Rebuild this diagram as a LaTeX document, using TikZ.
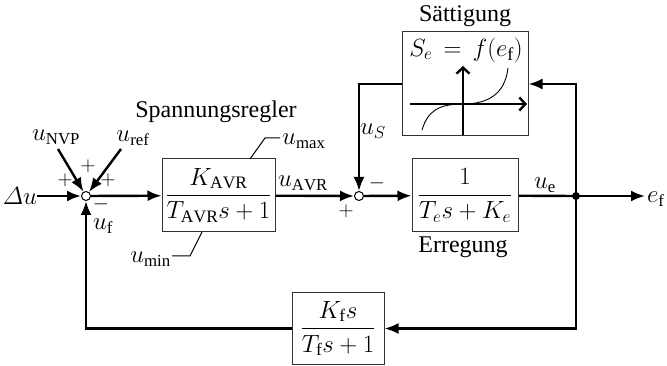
\documentclass[tikz,border=0pt]{standalone}
\usepackage{amsmath}
\usepackage{fontspec}
\setmainfont{Liberation Serif}
\usetikzlibrary{arrows.meta}
\begin{document}
\begin{tikzpicture}[x=1pt,y=-1pt,
  font=\fontsize{24}{28}\selectfont,
  sig/.style={line width=2.4pt},
  arr/.style={sig,-{Latex[length=14pt,width=11pt]}},
  blk/.style={draw=black!80,line width=1pt,fill=white,inner sep=0pt,
    font=\fontsize{25}{30}\selectfont},
  sumj/.style={circle,draw,line width=1pt,fill=white,minimum size=9pt,inner sep=0pt},
  sgn/.style={font=\fontsize{21}{22}\selectfont,inner sep=0pt},
  lbl/.style={inner sep=0pt},
  leader/.style={line width=1pt}
]
\useasboundingbox (0,0) rectangle (667,366);

% blocks
\node[blk,minimum width=113pt,minimum height=73pt] (avr) at (218.5,195.5)
  {$\dfrac{K_\mathrm{AVR}}{T_\mathrm{AVR}s+1}$};
\node[blk,minimum width=106pt,minimum height=73pt] (err) at (465,195.5)
  {$\dfrac{1}{T_e s+K_e}$};
\node[blk,minimum width=126pt,minimum height=104pt] (sat) at (465,84) {};
\node[blk,minimum width=92pt,minimum height=71pt] (fb) at (338,328.5)
  {$\dfrac{K_\mathrm{f}s}{T_\mathrm{f}s+1}$};

% block titles
\node[lbl] (tavr) at (216,112) {Spannungsregler};
\node[lbl] (terr) at (463,247) {Erregung};
\node[lbl] (tsat) at (465,16) {Sättigung};

% saturation characteristic
\node[lbl,font=\fontsize{26}{30}\selectfont] (sfun) at (466,50) {$S_e\,=\,f(e_\mathrm{f})$};
\coordinate (hx0) at (410,104);
\coordinate (hx1) at (527,104);
\coordinate (vy0) at (463,135);
\coordinate (vy1) at (463,66);
\draw[sig,-{Straight Barb[length=6pt,width=13pt]}] (hx0) -- (hx1);
\draw[sig,-{Straight Barb[length=6pt,width=13pt]}] (vy0) -- (vy1);
\draw[line width=0.9pt] (422,130) .. controls (428,110) and (440,104) .. (463,104)
  .. controls (488,104) and (505,94) .. (508,68);

% summing junctions
\node[sumj] (sum1) at (86,196) {};
\node[sumj] (sum2) at (359,196) {};
\coordinate (split) at (576,196);

% inputs
\node[lbl] (du) at (20,196) {$\varDelta u$};
\node[lbl] (nvp) at (56,137) {$u_\mathrm{NVP}$};
\node[lbl] (ref) at (133,138) {$u_\mathrm{ref}$};
\coordinate (nvpS) at (58,149);
\coordinate (refS) at (121,149);
\draw[arr] (du) -- (sum1);
\draw[arr] (nvpS) -- (sum1);
\draw[arr] (refS) -- (sum1);

% forward path
\draw[arr] (sum1) -- (avr);
\draw[arr] (avr) -- (sum2);
\draw[arr] (sum2) -- (err);
\draw[sig] (err) -- (split);
\coordinate (efend) at (645,196);
\draw[arr] (split) -- (efend);
\node[lbl,anchor=west] (ef) at (647,199) {$e_\mathrm{f}$};
\fill (split) circle (4pt);

% saturation loop
\draw[arr] (split) |- (sat.east);
\draw[arr] (sat.west) -| (sum2);

% derivative feedback
\draw[arr] (split) |- (fb.east);
\draw[arr] (fb.west) -| (sum1);

% signal labels
\node[lbl] (lavr) at (303,183) {$u_\mathrm{AVR}$};
\node[lbl] (le) at (545,185) {$u_\mathrm{e}$};
\node[lbl] (ls) at (373,131) {$u_S$};
\node[lbl] (lf) at (103,226) {$u_\mathrm{f}$};

% limiter annotations
\coordinate (mx0) at (250,159);
\coordinate (mx1) at (265,138);
\coordinate (mx2) at (280,138);
\draw[leader] (mx0) -- (mx1) -- (mx2);
\node[lbl,anchor=west] (umax) at (282,141) {$u_\mathrm{max}$};
\coordinate (mn0) at (202,232);
\coordinate (mn1) at (190,256);
\coordinate (mn2) at (172,256);
\draw[leader] (mn0) -- (mn1) -- (mn2);
\node[lbl,anchor=east] (umin) at (171,259) {$u_\mathrm{min}$};

% signs
\node[sgn] (p1) at (65,180) {$+$};
\node[sgn] (p2) at (88,166) {$+$};
\node[sgn] (p3) at (108,180) {$+$};
\node[sgn] (m1) at (101,204) {$-$};
\node[sgn] (p4) at (346,211) {$+$};
\node[sgn] (m2) at (377,183) {$-$};
\end{tikzpicture}
\end{document}
